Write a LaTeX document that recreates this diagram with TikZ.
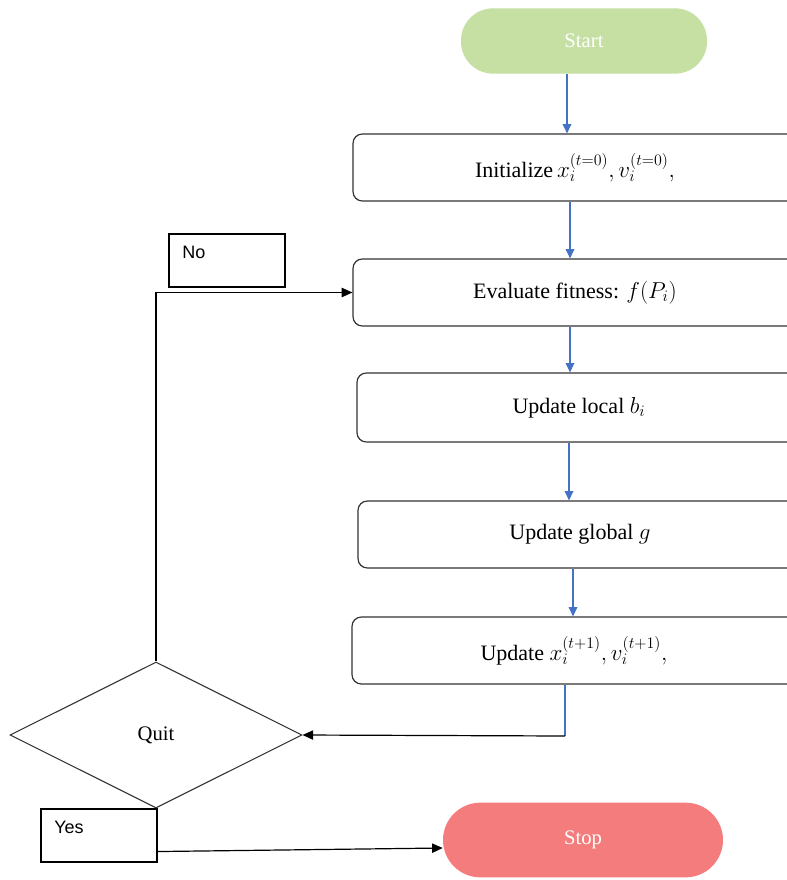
\documentclass[tikz,border=0pt]{standalone}
\usepackage{fontspec}
\setmainfont{Liberation Serif}
\setsansfont{Liberation Sans}
\usetikzlibrary{shapes.geometric,arrows.meta}
\definecolor{startgreen}{HTML}{C6E0A4}
\definecolor{stopred}{HTML}{F47C7C}
\definecolor{flowblue}{HTML}{4472C4}
\definecolor{edge}{HTML}{333333}
\tikzset{
  terminal/.style={rounded corners=24pt, minimum width=184.5pt, minimum height=49pt,
    text=white, font=\fontsize{15.5}{18}\selectfont, inner sep=0pt},
  process/.style={draw=edge, line width=0.9pt, rounded corners=7pt, minimum width=333pt,
    minimum height=50.25pt, font=\fontsize{16.5}{19}\selectfont, inner sep=0pt},
  decision/.style={draw=edge, line width=0.8pt, diamond, aspect=2, minimum width=219pt,
    minimum height=109.5pt, inner sep=0pt, font=\fontsize{15.5}{18}\selectfont},
  tagbox/.style={draw=black, line width=0.8pt, minimum width=87pt, minimum height=39.75pt,
    text width=67pt, align=left, inner xsep=10pt, text depth=12pt,
    font=\sffamily\fontsize{13.5}{16}\selectfont},
  bluearrow/.style={draw=flowblue, line width=0.9pt, -{Triangle[width=6.5pt,length=7pt]}},
  blueline/.style={draw=flowblue, line width=0.9pt},
  blackarrow/.style={draw=black, line width=0.9pt, -{Triangle[width=7pt,length=8pt]}},
}
\begin{document}
\begin{tikzpicture}[x=0.75pt,y=-0.75pt]
\useasboundingbox (0,0) rectangle (787,880);
\clip (0,0) rectangle (787,880);

% terminals
\node[terminal, fill=startgreen] (start) at (584,41) {Start};
\node[terminal, fill=stopred, minimum width=210pt, minimum height=56pt, rounded corners=28pt] (stop) at (583,840) {Stop};

% process steps (right edges run off the page)
\node[process] (init)   at (575,167.5) {Initialize$\,x_i^{(t=0)}, v_i^{(t=0)},$};
\node[process] (eval)   at (575,292.5) {Evaluate fitness: $f(P_i)$};
\node[process, minimum height=51.75pt] (local) at (579,407.5) {Update local $b_i$};
\node[process] (global) at (580,534.5) {Update global $g$};
\node[process] (update) at (574,650.5) {Update $x_i^{(t+1)}, v_i^{(t+1)},$};

% decision and its branch labels
\node[decision] (quit) at (156,735) {Quit};
\node[tagbox] (no)  at (227,260.5) {No};
\node[tagbox] (yes) at (99,835.5) {Yes};

% main flow
\draw[bluearrow] (start.south -| 567,0) -- (init.north -| 567,0);
\draw[bluearrow] (init.south -| 570,0) -- (eval.north -| 570,0);
\draw[bluearrow] (eval.south -| 570,0) -- (local.north -| 570,0);
\draw[bluearrow] (local.south -| 569,0) -- (global.north -| 569,0);
\draw[bluearrow] (global.south -| 573,0) -- (update.north -| 573,0);

% back to the decision
\coordinate (turn) at (565,736);
\draw[blueline] (update.south -| turn) -- (turn);
\draw[blackarrow] (turn) -- (quit.east);

% loop and exit
\draw[blackarrow] (quit.north) |- (eval.west);
\draw[blackarrow] ([yshift=8.25pt]yes.south east) -- ([yshift=-6pt]stop.west);
\end{tikzpicture}
\end{document}
